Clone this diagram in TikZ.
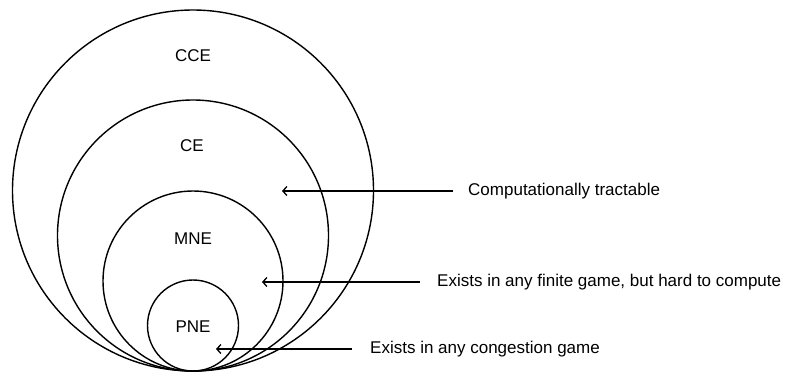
\documentclass[tikz,border=0pt]{standalone}
\usepackage{fontspec}
\setmainfont{Liberation Sans}
\usetikzlibrary{arrows.meta}
\begin{document}
\begin{tikzpicture}[x=1pt,y=-1pt,
  set/.style={draw=black,line width=1.4pt,circle,inner sep=0pt},
  lbl/.style={font=\fontsize{17}{20}\selectfont,inner sep=0pt},
  note/.style={font=\fontsize{17}{20}\selectfont,inner sep=0pt,anchor=west},
  pointer/.style={draw=black,line width=1.3pt,-{Straight Barb[length=4pt,width=9pt,line width=1.3pt]}}]
\useasboundingbox (0,0) rectangle (791,373);
\node[set,minimum size=361pt] (cce) at (193,190.5) {};
\node[set,minimum size=271pt] (ce) at (193,235.5) {};
\node[set,minimum size=180pt] (mne) at (193,281) {};
\node[set,minimum size=91pt] (pne) at (193,325.5) {};
\node[lbl] (lcce) at (193,56) {CCE};
\node[lbl] (lce) at (192,146) {CE};
\node[lbl] (lmne) at (193,239) {MNE};
\node[lbl] (lpne) at (193,327) {PNE};
\node[note] (t1) at (468,191) {Computationally tractable};
\node[note] (t2) at (437,282) {Exists in any finite game, but hard to compute};
\node[note] (t3) at (370,349) {Exists in any congestion game};
\coordinate (p1) at (282,191);
\coordinate (p2) at (262,282);
\coordinate (p3) at (216,349);
\draw[pointer,shorten <=15pt] (t1.west) -- (p1);
\draw[pointer,shorten <=17pt] (t2.west) -- (p2);
\draw[pointer,shorten <=18pt] (t3.west) -- (p3);
\end{tikzpicture}
\end{document}
